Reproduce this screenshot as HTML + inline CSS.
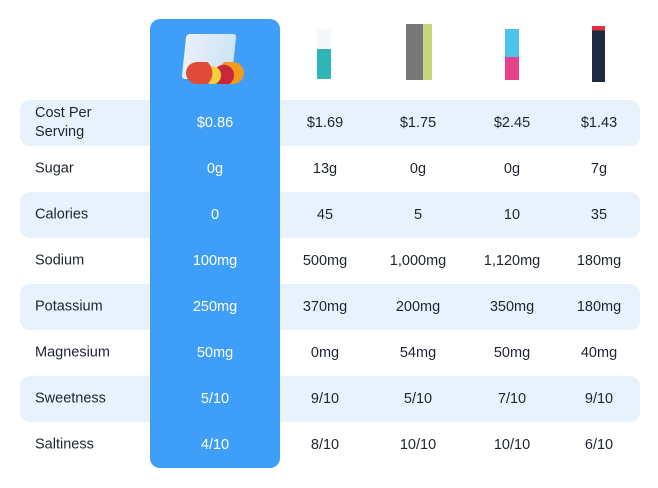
<!DOCTYPE html><html><head><style>
body{margin:0;width:658px;height:488px;background:#fff;position:relative;overflow:hidden;font-family:"Liberation Sans",sans-serif;color:#1e2430}
.row{position:absolute;left:20px;width:620px;height:46px;border-radius:10px}
.sh{background:#e8f2fd}
.blue{position:absolute;left:150px;top:19px;width:130px;height:449px;background:#3f9ff8;border-radius:10px}
.t{position:absolute;font-size:14.5px;transform:translate(-50%,-50%);white-space:nowrap}
.l{position:absolute;left:35px;font-size:14.5px;transform:translateY(-50%);line-height:19px}
.w{color:#fff}
.p{position:absolute}
</style></head><body>
<div class="row sh" style="top:100px"></div>
<div class="row sh" style="top:192px"></div>
<div class="row sh" style="top:284px"></div>
<div class="row sh" style="top:376px"></div>
<div class="blue"></div>
<div class="p" style="left:184px;top:34px;width:50px;height:45px;background:linear-gradient(90deg,#e8f0f8,#cfe4f5);border-radius:3px;transform:skewX(-6deg)"></div>
<div class="p" style="left:186px;top:62px;width:58px;height:22px;border-radius:11px;background:radial-gradient(circle at 20% 50%,#e04a3a 30%,transparent 32%),radial-gradient(circle at 45% 60%,#f5d23a 25%,transparent 27%),radial-gradient(circle at 65% 60%,#c8283a 25%,transparent 27%),radial-gradient(circle at 85% 50%,#f39a1e 30%,transparent 32%)"></div>
<div class="p" style="left:317px;top:29px;width:14px;height:50px;background:linear-gradient(#f4f8fa 40%,#2fb5b5 40%);"></div>
<div class="p" style="left:406px;top:24px;width:26px;height:56px;background:linear-gradient(90deg,#777 65%,#c7d77a 65%)"></div>
<div class="p" style="left:505px;top:29px;width:14px;height:51px;background:linear-gradient(#4cc3e8 55%,#ea3f8a 55%)"></div>
<div class="p" style="left:592px;top:26px;width:13px;height:56px;background:linear-gradient(#e03040 8%,#1d2a3f 8%)"></div>
<div class="l" style="top:123px">Cost Per<br>Serving</div>
<div class="l" style="top:169px">Sugar</div>
<div class="l" style="top:215px">Calories</div>
<div class="l" style="top:261px">Sodium</div>
<div class="l" style="top:307px">Potassium</div>
<div class="l" style="top:353px">Magnesium</div>
<div class="l" style="top:399px">Sweetness</div>
<div class="l" style="top:445px">Saltiness</div>
<div id="v"></div>
<script>
var d=[["$0.86","$1.69","$1.75","$2.45","$1.43"],["0g","13g","0g","0g","7g"],["0","45","5","10","35"],["100mg","500mg","1,000mg","1,120mg","180mg"],["250mg","370mg","200mg","350mg","180mg"],["50mg","0mg","54mg","50mg","40mg"],["5/10","9/10","5/10","7/10","9/10"],["4/10","8/10","10/10","10/10","6/10"]];
var xs=[215,325,418,512,599],h="";
d.forEach(function(r,i){r.forEach(function(s,j){h+='<div class="t'+(j==0?' w':'')+'" style="left:'+xs[j]+'px;top:'+(123+46*i)+'px">'+s+'</div>';});});
document.getElementById("v").innerHTML=h;
</script>
</body></html>
